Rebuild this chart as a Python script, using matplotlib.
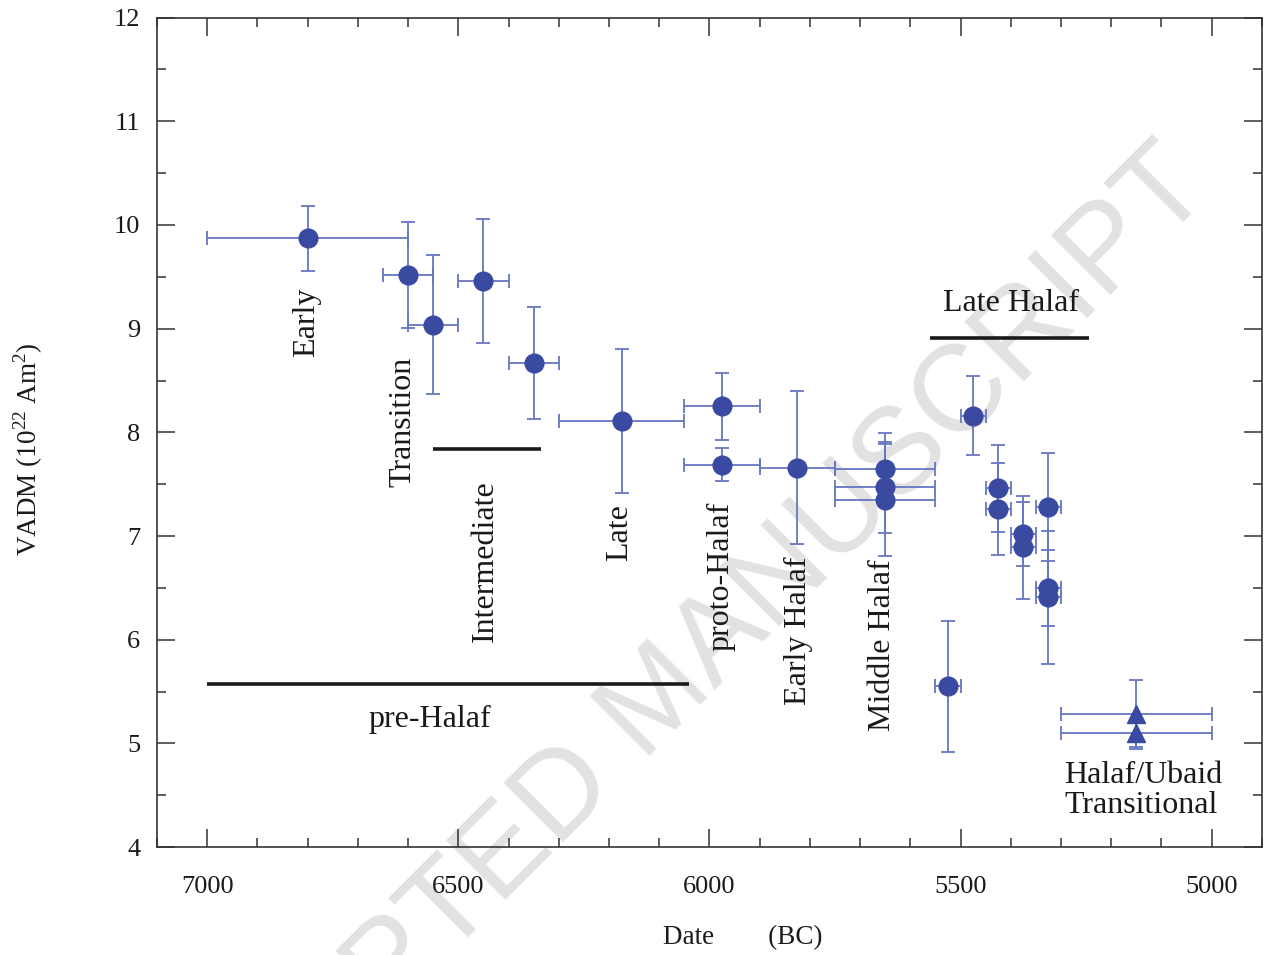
import matplotlib
matplotlib.use("Agg")
import matplotlib.pyplot as plt
from matplotlib.ticker import MultipleLocator

# ---- data (years BC, VADM in 1e22 Am^2) ----
date = [6800, 6600, 6550, 6450, 6350, 6175, 5975, 5975, 5825, 5650, 5650, 5650,
        5525, 5475, 5425, 5425, 5375, 5375, 5325, 5325, 5325]
date_err = [200, 50, 50, 50, 50, 125, 75, 75, 75, 100, 100, 100,
            25, 25, 25, 25, 25, 25, 25, 25, 25]
vadm = [9.87, 9.52, 9.04, 9.46, 8.67, 8.11, 8.25, 7.69, 7.66, 7.65, 7.47, 7.35,
        5.55, 8.16, 7.46, 7.26, 7.02, 6.89, 7.28, 6.50, 6.41]
vadm_err = [0.31, 0.51, 0.67, 0.60, 0.54, 0.69, 0.32, 0.16, 0.74, 0.34, 0.44, 0.54,
            0.63, 0.38, 0.42, 0.44, 0.31, 0.50, 0.52, 0.37, 0.64]

tri_date = [5150, 5150]
tri_date_err = [150, 150]
tri_vadm = [5.28, 5.10]
tri_vadm_err = [0.33, 0.13]

period_start = [7000, 6550, 5560]
period_end = [6040, 6335, 5245]
period_level = [5.57, 7.84, 8.91]

vlabels = ["Early", "Transition", "Intermediate", "Late", "proto-Halaf",
           "Early Halaf", "Middle Halaf"]
vlabel_x = [6803, 6611, 6446, 6179, 5978, 5823, 5656]
vlabel_y = [9.06, 8.10, 6.76, 7.03, 6.61, 6.09, 5.95]

xticks = [7000, 6500, 6000, 5500, 5000]
yticks = [4, 5, 6, 7, 8, 9, 10, 11, 12]

# ---- style ----
serif = ["Liberation Serif", "DejaVu Serif"]
plt.rcParams["font.family"] = serif
plt.rcParams["mathtext.fontset"] = "custom"
plt.rcParams["mathtext.rm"] = "Liberation Serif"

mcol = "#3a4aa0"
ecol = "#6676c2"

fig = plt.figure(figsize=(12.66, 9.55), dpi=100)
ax = fig.add_axes([0.124, 0.1129, 0.8728, 0.8687])
ax.set_facecolor("none")

ax.errorbar(date, vadm, xerr=date_err, yerr=vadm_err, fmt="o", ms=13.5,
            mfc=mcol, mec=mcol, ecolor=ecol, elinewidth=1.3, capsize=4.8,
            capthick=1.3, zorder=3)
ax.errorbar(tri_date, tri_vadm, xerr=tri_date_err, yerr=tri_vadm_err, fmt="^",
            ms=13, mfc=mcol, mec=mcol, ecolor=ecol, elinewidth=1.3, capsize=4.8,
            capthick=1.3, zorder=3)

ax.hlines(period_level, period_start, period_end, colors="#1a1a1a", lw=2.6, zorder=2)

for t, x, y in zip(vlabels, vlabel_x, vlabel_y):
    ax.text(x, y, t, rotation=90, ha="center", va="center", fontsize=23,
            color="#1a1a1a", zorder=4)
ax.text(6557, 5.23, "pre-Halaf", ha="center", va="center", fontsize=23,
        color="#1a1a1a", zorder=4)
ax.text(5400, 9.24, "Late Halaf", ha="center", va="center", fontsize=23,
        color="#1a1a1a", zorder=4)
ax.text(5294, 4.55, "Halaf/Ubaid\nTransitional", ha="left", va="center",
        fontsize=23, color="#1a1a1a", linespacing=1.05, zorder=4)

# watermark (behind everything)
ax.text(0.52, 0.265, "ACCEPTED MANUSCRIPT", rotation=45, ha="center", va="center",
        fontsize=88, color="#e2e2e2", family=["Liberation Sans", "DejaVu Sans"],
        transform=fig.transFigure, zorder=0.5, clip_on=False)

ax.set_xlim(7100, 4900)
ax.set_ylim(4, 12)
ax.xaxis.set_major_locator(MultipleLocator(500))
ax.xaxis.set_minor_locator(MultipleLocator(100))
ax.yaxis.set_major_locator(MultipleLocator(1))
ax.yaxis.set_minor_locator(MultipleLocator(0.5))
ax.set_xticks(xticks)
ax.set_yticks(yticks)
ax.tick_params(which="both", direction="in", top=True, right=True, width=1.1,
               colors="#333333", labelcolor="#1a1a1a", labelsize=19)
ax.tick_params(which="major", length=13)
ax.tick_params(which="minor", length=6.5)
ax.tick_params(axis="x", pad=20.5)
ax.tick_params(axis="y", pad=12)
for s in ax.spines.values():
    s.set_linewidth(1.2)
    s.set_color("#333333")

ax.set_xlabel("Date        (BC)", fontsize=19.5, color="#1a1a1a")
ax.xaxis.set_label_coords(0.53, -0.094)
ax.set_ylabel(r"VADM (10$^{22}$ Am$^{2}$)", fontsize=19.5, color="#1a1a1a")
ax.yaxis.set_label_coords(-0.1015, 0.48)

fig.savefig("out.png", dpi=100)
